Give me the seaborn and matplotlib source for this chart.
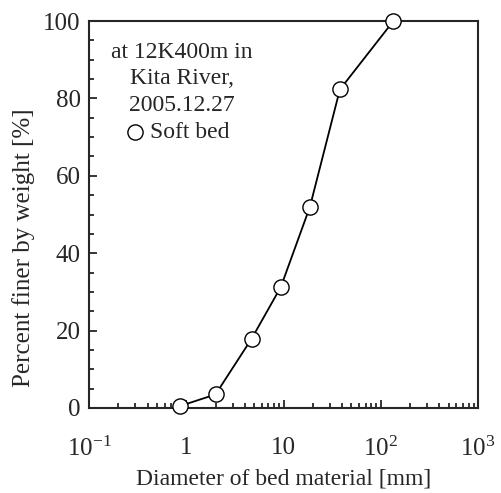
import numpy as np
import pandas as pd
import seaborn as sns
import matplotlib.pyplot as plt
from matplotlib.ticker import LogLocator, MultipleLocator, FixedLocator, FixedFormatter, NullFormatter

# grain size distribution
diameter = [0.86, 2.0, 4.7, 9.4, 18.7, 38, 135]
finer = [0.5, 3.5, 17.9, 31.3, 52.0, 82.3, 100.0]
xtick_vals = [0.1, 1, 10, 100, 1000]
xtick_labels = [r"$\mathregular{10^{-1}}$", "1", "10", r"$\mathregular{10^{2}}$", r"$\mathregular{10^{3}}$"]

df = pd.DataFrame({"d": diameter, "p": finer})

sns.set_style("ticks")
plt.rcParams["font.family"] = ["Liberation Serif", "DejaVu Serif"]
plt.rcParams["mathtext.fontset"] = "custom"
plt.rcParams["mathtext.rm"] = "Liberation Serif"

fig = plt.figure(figsize=(5.01, 4.93), dpi=100)
ax = fig.add_axes([89 / 501, 1 - 408 / 493, (478 - 89) / 501, (408 - 21) / 493])

sns.lineplot(data=df, x="d", y="p", color="black", lw=1.3, ax=ax, zorder=2)
sns.scatterplot(data=df, x="d", y="p", s=120, facecolor="white", edgecolor="black",
                linewidth=1.0, label="Soft bed", ax=ax, zorder=3, clip_on=False)

ax.set_xscale("log")
ax.set_xlim(0.1, 1000)
ax.set_ylim(0, 100)
ax.xaxis.set_major_locator(FixedLocator(xtick_vals))
ax.xaxis.set_major_formatter(FixedFormatter(xtick_labels))
ax.xaxis.set_minor_locator(LogLocator(base=10, subs=np.arange(2, 10)))
ax.xaxis.set_minor_formatter(NullFormatter())
ax.yaxis.set_major_locator(MultipleLocator(20))
ax.yaxis.set_minor_locator(MultipleLocator(5))

ax.tick_params(which="both", direction="in", top=False, right=False, labelsize=18, width=1.3)
ax.tick_params(which="major", length=6)
ax.tick_params(axis="x", which="major", pad=21)
ax.tick_params(axis="y", which="major", pad=6)
ax.tick_params(which="minor", length=3.5)
for s in ax.spines.values():
    s.set_linewidth(1.5)

ax.set_xlabel("Diameter of bed material [mm]", fontsize=17, labelpad=5)
ax.set_ylabel("Percent finer by weight [%]", fontsize=18)
ax.yaxis.set_label_coords(-0.139, 0.415)

ax.text(0.238, 0.945, "at 12K400m in\nKita River,\n2005.12.27", transform=ax.transAxes,
        ha="center", va="top", fontsize=17, linespacing=1.32)
ax.legend(loc="upper left", bbox_to_anchor=(0.034, 0.765), frameon=False, fontsize=17,
          handletextpad=-0.38, borderaxespad=0, markerscale=1.0)

fig.savefig("out.png", dpi=100)
